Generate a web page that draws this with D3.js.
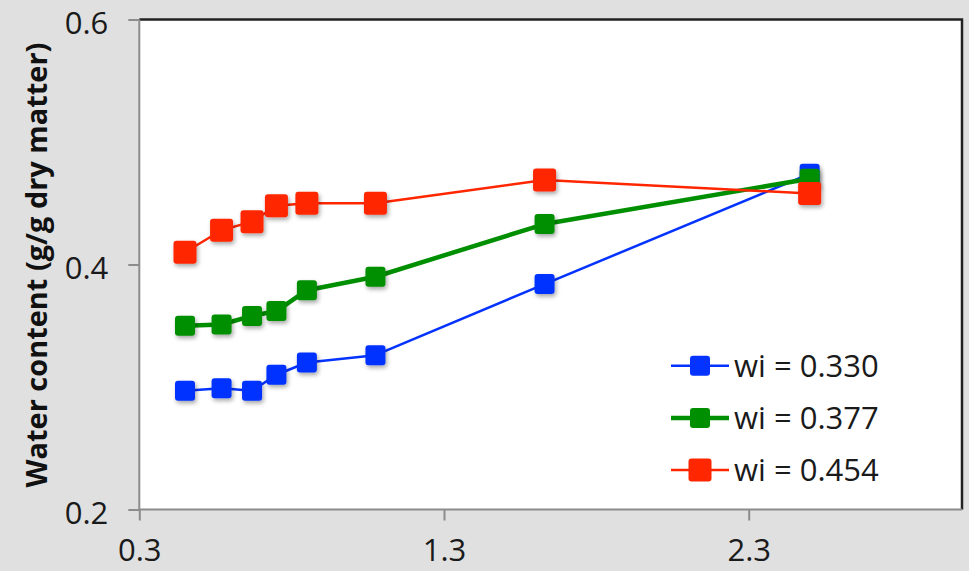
<!DOCTYPE html>
<html><head><meta charset="utf-8">
<script src="https://cdn.jsdelivr.net/npm/d3@7/dist/d3.min.js"></script>
<style>html,body{margin:0;padding:0;background:#e0e0e0;}svg{display:block;}</style>
</head><body>
<svg id="chart" width="969" height="571"></svg>
<script>
const xValues = [0.45, 0.57, 0.67, 0.75, 0.85, 1.075, 1.63, 2.5];
const seriesNames = ["wi = 0.330", "wi = 0.377", "wi = 0.454"];
const blueValues  = [0.297, 0.299, 0.297, 0.310, 0.320, 0.326, 0.384, 0.474];
const greenValues = [0.350, 0.351, 0.358, 0.362, 0.379, 0.390, 0.433, 0.470];
const redValues   = [0.410, 0.428, 0.435, 0.448, 0.450, 0.450, 0.469, 0.458];
const xTicks = [0.3, 1.3, 2.3];
const yTicks = [0.2, 0.4, 0.6];

const styles = [
  {color: "#0433ff", width: 2.5, size: 20},
  {color: "#008f00", width: 4.5, size: 20},
  {color: "#ff2600", width: 2.5, size: 23}
];
const seriesValues = [blueValues, greenValues, redValues];

const svg = d3.select("#chart");
const m = {left: 139.3, top: 19.5, right: 962, bottom: 509.5};
const x = d3.scaleLinear().domain([0.3, 3.0]).range([m.left, m.right]);
const y = d3.scaleLinear().domain([0.2, 0.6]).range([m.bottom, m.top]);

const defs = svg.append("defs");
const f = defs.append("filter").attr("id", "sh").attr("x", "-50%").attr("y", "-50%").attr("width", "200%").attr("height", "200%");
f.append("feDropShadow").attr("dx", 1.5).attr("dy", 2.5).attr("stdDeviation", 2).attr("flood-color", "#000").attr("flood-opacity", 0.35);

// plot area
svg.append("rect").attr("x", m.left).attr("y", m.top).attr("width", m.right - m.left).attr("height", m.bottom - m.top).attr("fill", "#fff");
// top & right dark borders
svg.append("path").attr("d", `M${m.left},${m.top}H${m.right}V${m.bottom}`).attr("fill", "none").attr("stroke", "#222").attr("stroke-width", 2.5);

// axes
const xAxis = d3.axisBottom(x).tickValues(xTicks).tickFormat(d3.format(".1f")).tickSize(11).tickPadding(18);
const yAxis = d3.axisLeft(y).tickValues(yTicks).tickFormat(d3.format(".1f")).tickSize(11).tickPadding(20);
const gx = svg.append("g").attr("transform", `translate(0,${m.bottom})`).call(xAxis);
const gy = svg.append("g").attr("transform", `translate(${m.left},0)`).call(yAxis);
[gx, gy].forEach(g => {
  g.select(".domain").attr("stroke", "#8c8c8c").attr("stroke-width", 2);
  g.selectAll(".tick line").attr("stroke", "#8c8c8c").attr("stroke-width", 2);
  g.selectAll(".tick text").attr("fill", "#1a1a1a").attr("font-family", "'Open Sans', sans-serif").attr("font-size", 31);
});
gx.select(".domain").attr("d", `M${m.left},0H${m.right}`);
gy.select(".domain").attr("d", `M0,${m.bottom}V${m.top}`);
gy.selectAll(".tick text").attr("dy", "0.46em");

// axis title
const title = svg.append("text")
  .attr("transform", `translate(47,265) rotate(-90)`)
  .attr("text-anchor", "middle")
  .attr("font-family", "'Open Sans', sans-serif").attr("font-weight", "bold")
  .attr("font-size", 26).attr("fill", "#111")
  .text("Water content (g/g dry matter)");
const tl = title.node().getComputedTextLength();
title.attr("font-size", 26 * 445 / tl);

// series
const line = d3.line().x(d => x(d[0])).y(d => y(d[1]));
seriesValues.forEach((vals, i) => {
  const st = styles[i];
  const pts = xValues.map((xv, j) => [xv, vals[j]]);
  const g = svg.append("g");
  g.append("path").attr("d", line(pts)).attr("fill", "none").attr("stroke", st.color).attr("stroke-width", st.width).attr("stroke-linejoin", "round");
  g.selectAll("rect").data(pts).join("rect")
    .attr("x", d => x(d[0]) - st.size / 2).attr("y", d => y(d[1]) - st.size / 2)
    .attr("width", st.size).attr("height", st.size).attr("rx", 3)
    .attr("fill", st.color).attr("filter", "url(#sh)");
});

// legend
const legRows = [365.7, 418, 470];
seriesNames.forEach((name, i) => {
  const st = styles[i];
  const g = svg.append("g").attr("transform", `translate(700,${legRows[i]})`);
  g.append("line").attr("x1", -29).attr("x2", 29).attr("stroke", st.color).attr("stroke-width", st.width);
  g.append("rect").attr("x", -st.size / 2).attr("y", -st.size / 2).attr("width", st.size).attr("height", st.size).attr("rx", 3).attr("fill", st.color);
  g.append("text").attr("x", 34).attr("dy", "0.36em").attr("font-family", "'Open Sans', sans-serif").attr("font-size", 31).attr("fill", "#1a1a1a").text(name);
});
</script>
</body></html>
